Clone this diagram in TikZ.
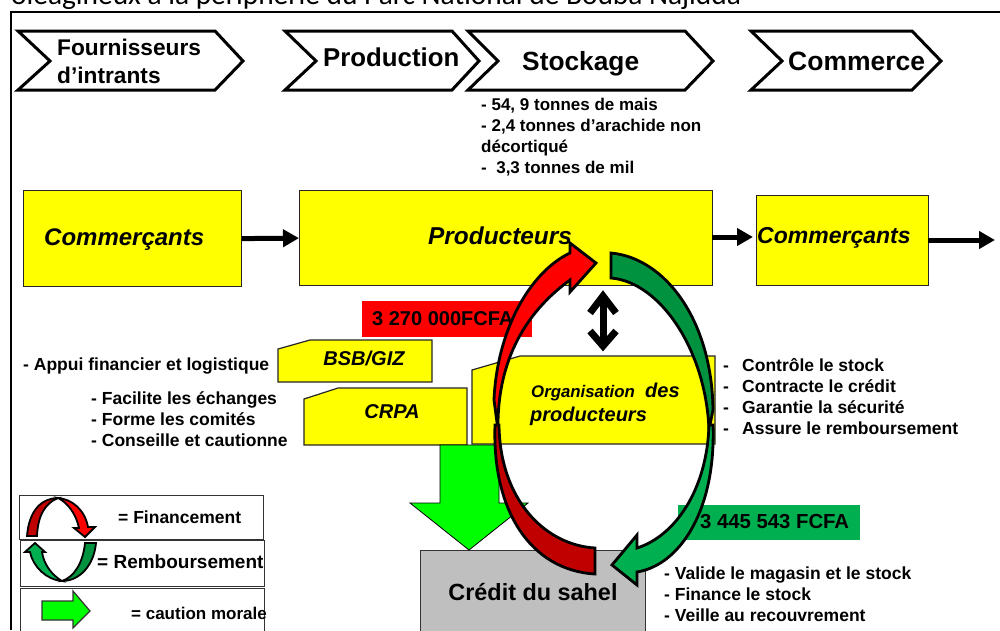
\documentclass[tikz,border=0pt]{standalone}
\usepackage{fontspec}
\setmainfont{Liberation Sans}
\newfontfamily\calibri{Carlito}
\definecolor{yel}{HTML}{FFFF00}
\definecolor{gdark}{HTML}{00923F}
\definecolor{glight}{HTML}{00B050}
\definecolor{rdark}{HTML}{C00000}
\definecolor{lime}{HTML}{00FF00}
\definecolor{grayb}{HTML}{BFBFBF}
\usetikzlibrary{arrows.meta}
\tikzset{
 chev/.style={draw=black,line width=3pt,fill=white,line join=miter},
 ybox/.style={draw=black!85,line width=1.2pt,fill=yel},
 arcline/.style={draw=black,line width=2.8pt,line join=miter},
 thinarc/.style={draw=black,line width=1.8pt},
 harrow/.style={line width=5pt,-{Triangle[length=16pt,width=17pt]}},
 lab/.style={font=\bfseries\fontsize{17.5}{21}\selectfont,anchor=west,inner sep=0pt,align=left},
 legbox/.style={draw=black!80,line width=1.2pt,fill=white},
 itlab/.style={font=\bfseries\itshape\fontsize{24}{28}\selectfont,anchor=west,inner sep=0pt},
}
\begin{document}
\begin{tikzpicture}[x=1pt,y=-1pt]
\useasboundingbox (0,0) rectangle (1000,630);
\fill[white] (0,0) rectangle (1000,630);
\begin{scope}
\clip (0,0) rectangle (1000,630);
\node[anchor=base west,inner sep=0pt,font=\calibri\fontsize{29.4}{32}\selectfont] (title) at (11,4) {oléagineux à la périphérie du Parc National de Bouba Najidda};
\draw[line width=2.6pt] (1000,12) -- (11,12) -- (11,630);
% chevrons
\draw[chev] (18,31)--(215,31)--(243,61)--(215,90)--(18,90)--(50,61)--cycle;
\draw[chev] (285,31)--(452,31)--(479,61)--(452,90)--(285,90)--(316,61)--cycle;
\draw[chev] (468,31)--(685,31)--(713,61)--(685,90)--(468,90)--(498,61)--cycle;
\draw[chev] (751,31)--(912,31)--(941,61)--(912,90)--(751,90)--(782,61)--cycle;
\node[lab,font=\bfseries\fontsize{22.7}{28}\selectfont] (fi) at (57,61) {Fournisseurs\\d’intrants};
\node[lab,font=\bfseries\fontsize{25.8}{28}\selectfont] (pr) at (323,57) {Production};
\node[lab,font=\bfseries\fontsize{26.3}{28}\selectfont] (st) at (522,64) {Stockage};
\node[lab,font=\bfseries\fontsize{26.5}{28}\selectfont] (co) at (788,61) {Commerce};
\node[lab,font=\bfseries\fontsize{17}{21}\selectfont] (stock) at (481,137) {- 54, 9 tonnes de mais\\- 2,4 tonnes d’arachide non\\décortiqué\\-\ \ 3,3 tonnes de mil};
% boxes
\node[ybox,minimum width=218pt,minimum height=96pt,anchor=north west] (c1) at (23,190) {};
\node[ybox,minimum width=413pt,minimum height=95pt,anchor=north west] (p) at (299,190) {};
\node[ybox,minimum width=172pt,minimum height=90pt,anchor=north west] (c2) at (756,195) {};
\node[itlab] at (44,240) {Commerçants};
\node[itlab,font=\bfseries\itshape\fontsize{24.4}{28}\selectfont] at (428,236) {Producteurs};
\node[itlab,font=\bfseries\itshape\fontsize{23}{28}\selectfont] at (757,238) {Commerçants};
\coordinate (end) at (995,240);
\draw[harrow] (c1.east) -- (p.west);
\draw[harrow] (712,237) -- (753,237);
\draw[harrow] (928,240) -- (end);
% red / green labels
\fill[red] (362,301) rectangle (532,337);
\node[lab,font=\bfseries\fontsize{20}{24}\selectfont] (rl) at (372,319) {3 270 000FCFA};
\fill[glight] (678,505) rectangle (860,540);
\node[lab,font=\bfseries\fontsize{20.3}{24}\selectfont] (gl) at (700,522) {3 445 543 FCFA};
% snipped boxes
\draw[ybox] (278,349)--(310,340)--(432,340)--(432,382)--(278,382)--cycle;
\node[font=\bfseries\itshape\fontsize{20}{24}\selectfont,inner sep=0pt] (bsb) at (364,358) {BSB/GIZ};
\draw[ybox] (304,399)--(338,388)--(467,388)--(467,445)--(304,445)--cycle;
\node[font=\bfseries\itshape\fontsize{20}{24}\selectfont,inner sep=0pt] (crpa) at (392,412) {CRPA};
\draw[ybox] (472,370)--(520,356)--(715,356)--(715,444)--(472,444)--cycle;
\node[anchor=base west,inner sep=0pt,font=\bfseries\itshape\fontsize{16.8}{24}\selectfont] (org) at (531,397) {Organisation};
\node[anchor=base west,inner sep=0pt,font=\bfseries\itshape\fontsize{20}{24}\selectfont] (des) at (645,397) {des};
\node[anchor=base west,inner sep=0pt,font=\bfseries\itshape\fontsize{20}{24}\selectfont] (prod) at (530,421) {producteurs};
% side labels
\node[lab] at (23,366) {- Appui financier et logistique};
\node[lab] at (91,419) {- Facilite les échanges\\- Forme les comités\\- Conseille et cautionne};
\node[lab] at (723,398.5) {-\strut\\-\strut\\-\strut\\-\strut};
\node[lab] at (742,398.5) {\strut Contrôle le stock\\\strut Contracte le crédit\\\strut Garantie la sécurité\\\strut Assure le remboursement};
\node[lab] at (664,594) {- Valide le magasin et le stock\\- Finance le stock\\- Veille au recouvrement};
% credit
\node[draw=black!80,line width=1.2pt,fill=grayb,minimum width=225pt,minimum height=90pt,anchor=north west] (cr) at (420,550) {};
\node[font=\bfseries\fontsize{23.4}{26}\selectfont,inner sep=0pt] (crt) at (533,592) {Crédit du sahel};
% down arrow
\draw[draw=black,line width=.8pt,fill=lime] (440,445)--(499,445)--(499,503)--(528,503)--(469,550)--(410,503)--(440,503)--cycle;
% double arrow
\coordinate (dt) at (603,296);
\coordinate (db) at (603,346);
\draw[line width=7pt] (dt) -- (db);
\draw[line width=7pt,line join=miter] (590,313)--(603,296)--(616,313);
\draw[line width=7pt,line join=miter] (590,331)--(603,346)--(616,331);
% red arc
\draw[arcline,fill=red] (596,263)--(570,243)--(570,253)
  .. controls (530,272) and (497,330) .. (494,400)
  -- (498,430)
  .. controls (497,375) and (515,320) .. (570,280)
  -- (570,292)--cycle;
\draw[arcline,fill=rdark] (595,548)
  .. controls (545,545) and (500,500) .. (499,425)
  -- (495,425)
  .. controls (492,510) and (530,570) .. (595,574)
  --cycle;
% green arc
\draw[arcline,fill=gdark] (611,253)
  .. controls (665,258) and (712,320) .. (713,410)
  -- (709,430)
  .. controls (706,350) and (660,282) .. (611,278)
  --cycle;
\draw[arcline,fill=glight] (612,565)--(637,535)--(637,548)
  .. controls (675,536) and (707,490) .. (709,425)
  -- (713,425)
  .. controls (716,510) and (680,565) .. (637,572)
  -- (637,585)--cycle;
% legend
\node[legbox,minimum width=244pt,minimum height=44pt,anchor=north west] (l1) at (19,495) {};
\node[legbox,minimum width=244pt,minimum height=46pt,anchor=north west] (l2) at (20,540) {};
\node[legbox,minimum width=244pt,minimum height=60pt,anchor=north west] (l3) at (20,588) {};
\node[lab] at (118,517) {= Financement};
\node[lab,font=\bfseries\fontsize{19}{22}\selectfont] at (97,562) {= Remboursement};
\node[lab,font=\bfseries\fontsize{17}{22}\selectfont] at (131,613) {= caution morale};
\draw[thinarc,fill=rdark] (27,536) .. controls (29,510) and (42,498) .. (58,498) .. controls (46,503) and (38,514) .. (37,536) --cycle;
\draw[thinarc,fill=red] (58,498) .. controls (72,499) and (85,510) .. (88,527) -- (95,527) -- (85,537) -- (74,528) -- (79,528) .. controls (76,514) and (68,503) .. (58,498) --cycle;
\draw[thinarc,fill=gdark] (96,543) .. controls (94,565) and (80,581) .. (62,581) .. controls (74,577) and (83,563) .. (85,543) --cycle;
\draw[thinarc,fill=glight] (62,581) .. controls (47,580) and (33,567) .. (30,552) -- (25,552) -- (35,543) -- (45,552) -- (42,552) .. controls (44,565) and (52,575) .. (62,581) --cycle;
\draw[draw=black!80,line width=1.2pt,fill=lime] (42,601)--(73,601)--(73,591)--(90,611)--(73,628)--(73,620)--(42,620)--cycle;
\end{scope}
\end{tikzpicture}
\end{document}
